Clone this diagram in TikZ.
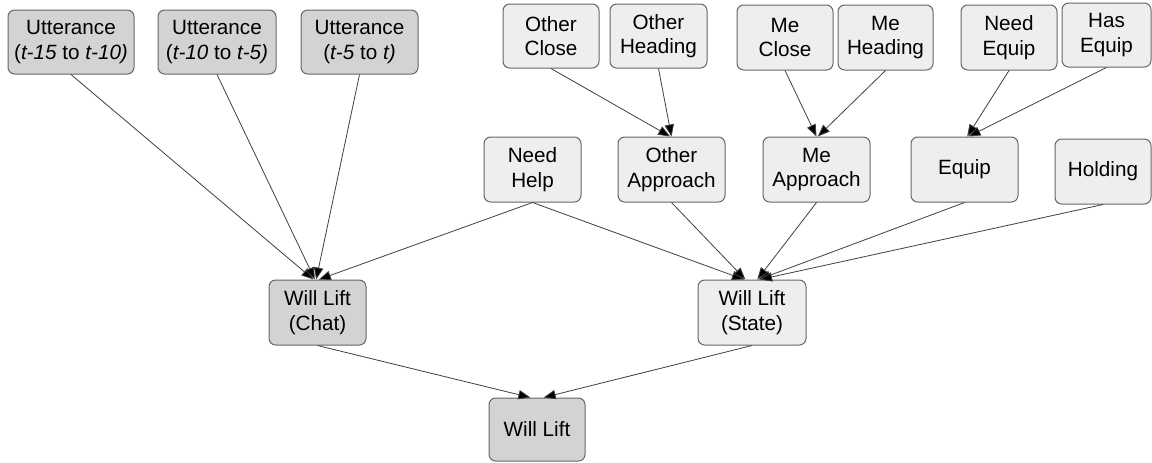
\documentclass[tikz,border=0pt]{standalone}
\usepackage{fontspec}
\setmainfont{Liberation Sans}
\usetikzlibrary{arrows.meta}
\definecolor{darkfill}{HTML}{D3D3D3}
\definecolor{lightfill}{HTML}{EEEEEE}
\definecolor{edgegray}{HTML}{666666}
\definecolor{linegray}{HTML}{404040}
\tikzset{
  box/.style={draw=edgegray, line width=0.75pt, rounded corners=5pt, align=center,
    inner sep=0pt, font=\fontsize{15.5}{18.5}\selectfont, text=black},
  darkbox/.style={box, fill=darkfill},
  lightbox/.style={box, fill=lightfill},
  conn/.style={draw=linegray, line width=0.6pt, -{Triangle[length=9pt,width=7pt,fill=black]}}
}
\begin{document}
\begin{tikzpicture}[x=0.75pt,y=-0.75pt]
\useasboundingbox[fill=white] (0,0) rectangle (1152,462);
% top row
\node[darkbox, minimum width=94.5pt, minimum height=48pt] (u1) at (71,42) {Utterance\\(\textit{t-15} to \textit{t-10)}};
\node[darkbox, minimum width=88.5pt, minimum height=48pt] (u2) at (217,42) {Utterance\\(\textit{t-10} to \textit{t-5)}};
\node[darkbox, minimum width=87.75pt, minimum height=48pt] (u3) at (359.5,42) {Utterance\\(\textit{t-5} to \textit{t)}};
\node[lightbox, minimum width=72pt, minimum height=48pt] (oc) at (551,36) {Other\\Close};
\node[lightbox, minimum width=72.75pt, minimum height=48pt] (oh) at (658.5,36) {Other\\Heading};
\node[lightbox, minimum width=72pt, minimum height=48.75pt] (mc) at (785,37.5) {Me\\Close};
\node[lightbox, minimum width=71.25pt, minimum height=48.75pt] (mh) at (885.5,37.5) {Me\\Heading};
\node[lightbox, minimum width=72pt, minimum height=48.75pt] (ne) at (1009,37.5) {Need\\Equip};
\node[lightbox, minimum width=66.75pt, minimum height=48pt] (he) at (1106.5,35) {Has\\Equip};
% second row
\node[lightbox, minimum width=72.75pt, minimum height=48.75pt] (nh) at (532.5,169.5) {Need\\Help};
\node[lightbox, minimum width=80.25pt, minimum height=48.75pt] (oa) at (671.5,169.5) {Other\\Approach};
\node[lightbox, minimum width=80.25pt, minimum height=48.75pt] (ma) at (816.5,169.5) {Me\\Approach};
\node[lightbox, minimum width=80.25pt, minimum height=48.75pt] (eq) at (964.5,169.5) {Equip};
\node[lightbox, minimum width=72pt, minimum height=48.75pt] (ho) at (1103,171.5) {Holding};
% third row
\node[darkbox, minimum width=72.75pt, minimum height=48.75pt] (chat) at (317.5,312.5) {Will Lift\\(Chat)};
\node[lightbox, minimum width=81pt, minimum height=48.75pt] (state) at (752,312.5) {Will Lift\\(State)};
% bottom
\node[darkbox, minimum width=72pt, minimum height=47.25pt] (wl) at (537,429.5) {Will Lift};
% connectors
\draw[conn] (oc.south) -- ([xshift=-1pt]oa.north);
\draw[conn] (oh.south) -- ([xshift=0pt]oa.north);
\draw[conn] (mc.south) -- ([xshift=0pt]ma.north);
\draw[conn] (mh.south) -- ([xshift=1pt]ma.north);
\draw[conn] (ne.south) -- ([xshift=2pt]eq.north);
\draw[conn] (he.south) -- ([xshift=3pt]eq.north);
\draw[conn] (u1.south) -- ([xshift=-3pt]chat.north);
\draw[conn] (u2.south) -- ([xshift=-2pt]chat.north);
\draw[conn] (u3.south) -- ([xshift=-1pt]chat.north);
\draw[conn] (nh.south) -- ([xshift=1pt]chat.north);
\draw[conn] (nh.south) -- ([xshift=-6pt]state.north);
\draw[conn] (oa.south) -- ([xshift=-5pt]state.north);
\draw[conn] (ma.south) -- ([xshift=4pt]state.north);
\draw[conn] (eq.south) -- ([xshift=5pt]state.north);
\draw[conn] (ho.south) -- ([xshift=6pt]state.north);
\draw[conn] (chat.south) -- ([xshift=-5pt]wl.north);
\draw[conn] (state.south) -- ([xshift=5pt]wl.north);
\end{tikzpicture}
\end{document}
